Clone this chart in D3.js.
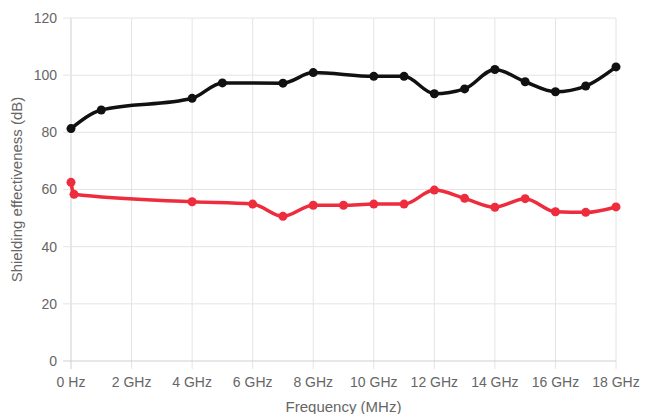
<!DOCTYPE html>
<html>
<head>
<meta charset="utf-8">
<script src="https://cdn.jsdelivr.net/npm/d3@7"></script>
<style>
  body { margin: 0; background: #fff; }
  svg { display: block; font-family: "Liberation Sans", Arial, sans-serif; }
</style>
</head>
<body>
<svg id="chart" width="645" height="414"></svg>
<script>
// frequencies in GHz, shielding effectiveness in dB
var blackFreq = [0, 1, 4, 5, 7, 8, 10, 11, 12, 13, 14, 15, 16, 17, 18],
  blackSE = [81.3, 87.8, 91.9, 97.3, 97.2, 100.9, 99.6, 99.6, 93.5, 95.2, 102.0, 97.7, 94.2, 96.2, 102.9];
var redFreq = [0, 0.1, 4, 6, 7, 8, 9, 10, 11, 12, 13, 14, 15, 16, 17, 18],
  redSE = [62.5, 58.3, 55.7, 54.9, 50.6, 54.5, 54.5, 54.9, 54.9, 59.8, 56.9, 53.8, 56.8, 52.2, 52.0, 53.9];
var xTicks = [0, 2, 4, 6, 8, 10, 12, 14, 16, 18],
  yTicks = [0, 20, 40, 60, 80, 100, 120];

var svg = d3.select("#chart"),
  margin = {top: 18, right: 29, bottom: 53, left: 71},
  width = 645 - margin.left - margin.right,
  height = 414 - margin.top - margin.bottom,
  g = svg.append("g").attr("transform", "translate(" + margin.left + "," + margin.top + ")");

var x = d3.scaleLinear().domain([0, 18]).range([0, width]),
  y = d3.scaleLinear().domain([0, 120]).range([height, 0]);

// grid
g.selectAll(".vgrid").data(xTicks).enter().append("line")
  .attr("x1", d => x(d)).attr("x2", d => x(d))
  .attr("y1", 0).attr("y2", height + 8)
  .attr("stroke", d => d === 0 ? "#cfcfcf" : "#e4e4e4").attr("stroke-width", 1);
g.selectAll(".hgrid").data(yTicks).enter().append("line")
  .attr("x1", -8).attr("x2", width)
  .attr("y1", d => y(d)).attr("y2", d => y(d))
  .attr("stroke", d => d === 0 ? "#cfcfcf" : "#e4e4e4").attr("stroke-width", 1);

// tick labels
g.selectAll(".xlab").data(xTicks).enter().append("text")
  .attr("x", d => x(d)).attr("y", height + 26)
  .attr("text-anchor", "middle").attr("fill", "#666").attr("font-size", 14)
  .text(d => d === 0 ? "0 Hz" : d + " GHz");
g.selectAll(".ylab").data(yTicks).enter().append("text")
  .attr("x", -14).attr("y", d => y(d)).attr("dy", "0.35em")
  .attr("text-anchor", "end").attr("fill", "#666").attr("font-size", 14)
  .text(d => d);

// axis titles
svg.append("text")
  .attr("x", margin.left + width / 2).attr("y", 412)
  .attr("text-anchor", "middle").attr("fill", "#666").attr("font-size", 15)
  .text("Frequency (MHz)");
svg.append("text")
  .attr("transform", "translate(22," + (margin.top + height / 2) + ") rotate(-90)")
  .attr("text-anchor", "middle").attr("fill", "#666").attr("font-size", 15)
  .text("Shielding effectiveness (dB)");

var line = d3.line()
  .x(d => x(d[0])).y(d => y(d[1]))
  .curve(d3.curveMonotoneX);

function drawSeries(freq, se, color) {
  var pts = freq.map((f, i) => [f, se[i]]);
  g.append("path").datum(pts)
    .attr("d", line).attr("fill", "none")
    .attr("stroke", color).attr("stroke-width", 3.5)
    .attr("stroke-linejoin", "round");
  g.selectAll(null).data(pts).enter().append("circle")
    .attr("cx", d => x(d[0])).attr("cy", d => y(d[1]))
    .attr("r", 4.5).attr("fill", color);
}

drawSeries(blackFreq, blackSE, "#111111");
drawSeries(redFreq, redSE, "#ee2c3e");
</script>
</body>
</html>
